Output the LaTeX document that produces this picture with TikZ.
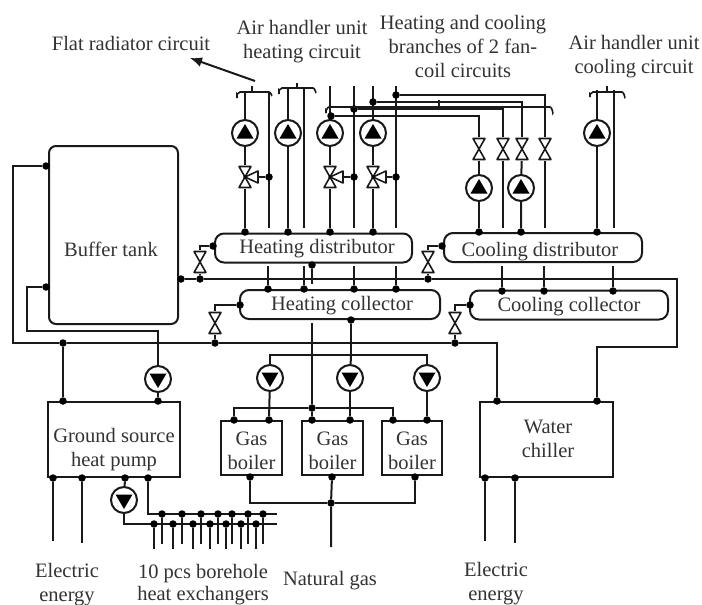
\documentclass[tikz,border=0pt]{standalone}
\usepackage{fontspec}
\setmainfont{Liberation Serif}
\usetikzlibrary{arrows.meta}
\pgfdeclarelayer{pipes}
\pgfsetlayers{pipes,main}
\tikzset{
  x=1pt,y=-1pt,
  pipe/.style={line width=2pt,black!90,line join=miter},
  heavy/.style={pipe,line width=2.8pt},
  thinp/.style={pipe,line width=1.6pt},
  box/.style={draw=black!90,line width=2pt,fill=white,inner sep=0pt},
  dist/.style={box,rounded corners=9pt,minimum height=29pt},
  dot/.style={circle,fill=black,inner sep=0pt,minimum size=7.5pt},
  lbl/.style={inner sep=0pt,align=center,font=\fontsize{20.5}{24}\selectfont,text=black!80},
  pumpu/.style={circle,draw=black!90,line width=2pt,fill=white,minimum size=26pt,inner sep=0pt,
    path picture={\fill[black] (path picture bounding box.center)+(0,-9)--+(8.5,5.5)--+(-8.5,5.5)--cycle;}},
  pumpd/.style={circle,draw=black!90,line width=2pt,fill=white,minimum size=26pt,inner sep=0pt,
    path picture={\fill[black] (path picture bounding box.center)+(0,9)--+(8.5,-5.5)--+(-8.5,-5.5)--cycle;}},
  valve/.style={inner sep=0pt,fill=white,minimum width=15pt,minimum height=24pt,
    path picture={\draw[black!90,line width=1.6pt,fill=white,line join=round]
      (path picture bounding box.center)+(0,0)--+(-6,-10.5)--+(6,-10.5)--cycle
      (path picture bounding box.center)+(0,0)--+(-6,10.5)--+(6,10.5)--cycle;}},
  wing/.style={draw=black!90,line width=1.6pt,fill=white,line join=round}
}
\newcommand{\threeway}[3]{%
  \node[valve] (#1) at (#2,#3) {};
  \draw[wing] (#2,#3)--(#2+13,#3-6)--(#2+13,#3+6)--cycle;
  \fill[black] (#2,#3) circle (1.8pt);
  \coordinate (#1e) at (#2+13,#3);
}
\begin{document}
\begin{tikzpicture}
\useasboundingbox (0,0) rectangle (702,605);
\begin{pgfonlayer}{pipes}
\fill[white] (0,0) rectangle (702,605);
\end{pgfonlayer}

% boxes
\node[box,rounded corners=7pt,minimum width=129pt,minimum height=178pt] (tank) at (113.5,235) {};
\node[lbl] (tankt) at (111,249) {Buffer tank};
\node[dist,minimum width=197pt] (hd) at (313.5,248) {};
\node[lbl] (hdt) at (317,249) {Heating distributor};
\node[dist,minimum width=200pt] (hc) at (340,304.5) {};
\node[lbl] (hct) at (342,306) {Heating collector};
\node[dist,minimum width=198pt] (cd) at (543,247.5) {};
\node[lbl] (cdt) at (540,252) {Cooling distributor};
\node[dist,minimum width=198pt] (cc) at (569,305) {};
\node[lbl] (cct) at (569,307) {Cooling collector};
\node[box,minimum width=132pt,minimum height=75pt] (hp) at (114,439.5) {};
\node[lbl] (hpt) at (114,450) {Ground source\\heat pump};
\node[box,minimum width=61pt,minimum height=54pt] (b1) at (251.5,448) {};
\node[lbl] (b1t) at (251.5,451) {Gas\\boiler};
\node[box,minimum width=61pt,minimum height=54pt] (b2) at (332.5,448) {};
\node[lbl] (b2t) at (332.5,451) {Gas\\boiler};
\node[box,minimum width=60pt,minimum height=54pt] (b3) at (412,448) {};
\node[lbl] (b3t) at (412,451) {Gas\\boiler};
\node[box,minimum width=133pt,minimum height=75pt] (wc) at (546.5,439.5) {};
\node[lbl] (wct) at (548,439) {Water\\chiller};

% pumps
\foreach \n/\x/\y in {p1/245/133,p2/288/133,p3/330/133,p4/373/133,p5/597/133,p6/479/188,p7/521/188}
  \node[pumpu] (\n) at (\x,\y) {};
\foreach \n/\x/\y in {p8/158/379,p9/270/378,p10/350/378,p11/427/378,p12/124/500}
  \node[pumpd] (\n) at (\x,\y) {};

% valves
\threeway{v1}{245}{177}
\threeway{v2}{330}{177}
\threeway{v3}{373}{177}
\foreach \n/\x/\y in {v4/479/149,v5/503/149,v6/522/149,v7/545/149,v8/200/262,v9/428/262,v10/215/323,v11/455/323}
  \node[valve] (\n) at (\x,\y) {};

% junction dots
\foreach \n/\x/\y in {
  j1/46/166,j2/46/287,j3/181/279,j4/200/279,j5/428/279,j6/63/343,j7/215/343,j8/455/343,
  j9/213/246,j10/442/246,j11/240/305,j12/470/305,
  t1/245/232,t2/288/232,t3/330/232,t4/373/232,t5/479/232,t6/521/232,t7/597/232,
  c1/268/289,c2/304/289,c3/354/289,c4/396/289,c5/502/291,c6/544/291,c7/613/291,
  e1/269/177,e2/354/177,e3/396/177,
  n1/331/116,n2/354/109,n3/373/102,n4/396/95,
  u1/312/265,u2/351/320,
  h1/63/401,h2/158/401,h3/53/478,h4/82/478,h5/125/478,h6/148/478,
  g1/234/420,g2/269/420,g3/312/420,g4/350/420,g5/393/420,g6/427/420,
  g7/250/477,g8/332/477,g9/415/477,g10/312/408,g11/331/503,
  w1/497/401,w2/597/401,w3/485/478,w4/515/478}
  \node[dot] (\n) at (\x,\y) {};

% borehole dots
\foreach \i/\x in {1/162,2/182,3/201,4/218,5/232,6/248,7/263}{
  \node[dot] (ba\i) at (\x,514) {};
  \coordinate (bae\i) at (\x,544);
}
\foreach \i/\x in {1/154,2/173,3/193,4/210,5/226,6/241,7/256}{
  \node[dot] (bb\i) at (\x,524) {};
  \coordinate (bbe\i) at (\x,549);
}

% free ends
\foreach \n/\x/\y in {
  a1/245/92,a2/269/92,a3/288/88,a4/304/88,a5/330/86,a6/354/86,a7/373/86,a8/396/86,
  a9/597/90,a10/614/90,
  o1/269/228,o2/304/228,o3/354/228,o4/396/228,o5/503/228,o6/545/228,o7/614/228,
  q1/268/266,q2/304/266,q3/354/266,q4/396/266,q5/502/266,q6/544/266,q7/613/266,
  uu/312/284,dd/312/323,
  e5/53/541,e6/82/543,e7/485/541,e8/515/543,e9/331/547,
  r1/277/514,r2/277/524,
  f1/13/343,f2/27/331,f3/677/279,f4/597/347,f5/351/355,k1/270/355,k2/427/355}
  \coordinate (\n) at (\x,\y);

\begin{pgfonlayer}{pipes}
% vertical risers
\draw[pipe] (a1)--(p1)--(v1)--(t1);
\draw[pipe] (a2)--(o1);
\draw[pipe] (a3)--(p2)--(t2);
\draw[pipe] (a4)--(o2);
\draw[pipe] (a5)--(p3)--(v2)--(t3);
\draw[pipe] (a6)--(o3);
\draw[pipe] (a7)--(p4)--(v3)--(t4);
\draw[pipe] (a8)--(o4);
\draw[pipe] (a9)--(p5)--(t7);
\draw[pipe] (a10)--(o7);
\draw[pipe] (v1e)--(e1);
\draw[pipe] (v2e)--(e2);
\draw[pipe] (v3e)--(e3);
% fan coil branches
\draw[pipe] (n1)-|(v4);
\draw[pipe] (v4)--(p6)--(t5);
\draw[heavy] (n2)-|(v5);
\draw[pipe] (v5)--(o5);
\draw[pipe] (n3)-|(v6);
\draw[pipe] (v6)--(p7)--(t6);
\draw[pipe] (n4)-|(v7);
\draw[pipe] (v7)--(o6);
% links distributor to collector
\draw[heavy] (q1)--(c1);
\draw[pipe] (q2)--(c2);
\draw[pipe] (q3)--(c3);
\draw[pipe] (q4)--(c4);
\draw[pipe] (q5)--(c5);
\draw[pipe] (q6)--(c6);
\draw[pipe] (q7)--(c7);
\draw[heavy] (u1)--(uu);
% return mains
\draw[pipe] (j1)-|(f1)--(j6)--(j7)--(j8)-|(w1);
\draw[pipe] (j6)--(h1);
\draw[pipe] (j2)-|(f2)-|(p8);
\draw[pipe] (p8)--(h2);
\draw[pipe] (j3)--(j4)--(j5)--(f3)|-(f4)--(w2);
\draw[pipe] (j4)--(v8);
\draw[pipe] (v8)|-(j9);
\draw[pipe] (j5)--(v9);
\draw[pipe] (v9)|-(j10);
\draw[pipe] (j7)--(v10);
\draw[pipe] (v10)|-(j11);
\draw[pipe] (j8)--(v11);
\draw[pipe] (v11)|-(j12);
% boilers
\draw[heavy] (dd)--(g10)--(g3);
\draw[pipe] (u2)--(f5);
\draw[pipe] (p9)--(k1)--(k2)--(p11);
\draw[pipe] (p10)--(f5);
\draw[pipe] (p9)--(g2);
\draw[pipe] (p10)--(g4);
\draw[pipe] (p11)--(g6);
\draw[pipe] (g1)|-(g10);
\draw[pipe] (g10)-|(g5);
\draw[pipe] (g7)|-(g11);
\draw[pipe] (g11)-|(g9);
\draw[pipe] (g8)--(g11)--(e9);
% heat pump below
\draw[pipe] (h3)--(e5);
\draw[heavy] (h4)--(e6);
\draw[pipe] (h5)--(p12);
\draw[pipe] (p12)|-(r2);
\draw[pipe] (h6)|-(r1);
\foreach \i in {1,...,7}{
  \draw[pipe] (ba\i)--(bae\i);
  \draw[heavy] (bb\i)--(bbe\i);
}
% chiller below
\draw[heavy] (w3)--(e7);
\draw[pipe] (w4)--(e8);
\end{pgfonlayer}

% manifold brackets
\draw[thinp] (237,98)--(237,94)to[out=-90,in=180](240,92)--(269,92)to[out=0,in=-90](272,95);
\draw[thinp] (252,92)--(252,86);
\draw[thinp] (279,94)--(279,90)to[out=-90,in=180](282,88)--(313,88)to[out=0,in=-90](316,92);
\draw[thinp] (297,88)--(297,83);
\draw[thinp] (326,113)--(326,110)to[out=-90,in=180](329,107)--(550,107)to[out=0,in=-90](553,113);
\draw[thinp] (439,107)--(439,100);
\draw[thinp] (590,97)--(590,94)to[out=-90,in=180](593,92)--(622,92)to[out=0,in=-90](625,97);
\draw[thinp] (607,92)--(607,86);

% arrow
\coordinate (ars) at (255,81); \coordinate (are) at (190,58);
\draw[pipe,-{Latex[length=12pt,width=10pt]}] (ars)--(are);

% labels
\node[lbl] (l1) at (131,43) {Flat radiator circuit};
\node[lbl] (l2) at (302,42) {Air handler unit\\heating circuit};
\node[lbl] (l3) at (463,46) {Heating and cooling\\branches of 2 fan-\\coil circuits};
\node[lbl] (l4) at (634,57) {Air handler unit\\cooling circuit};
\node[lbl] (l5) at (67,585) {Electric\\energy};
\node[lbl,font=\fontsize{20.5}{22}\selectfont] (l6) at (203,585) {10 pcs borehole\\heat exchangers};
\node[lbl] (l7) at (330,581) {Natural gas};
\node[lbl] (l8) at (496,584) {Electric\\energy};
\end{tikzpicture}
\end{document}
